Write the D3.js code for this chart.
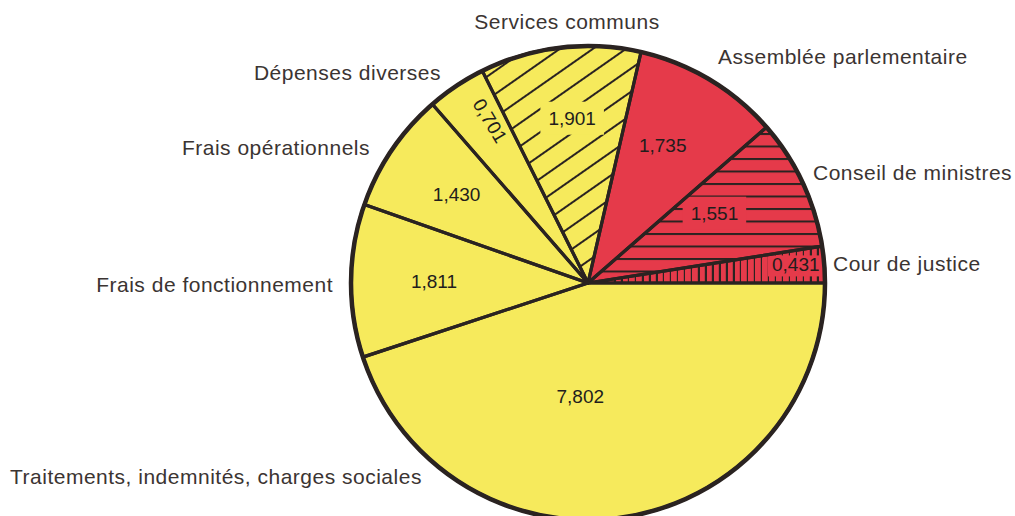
<!DOCTYPE html>
<html>
<head>
<meta charset="utf-8">
<script src="https://cdn.jsdelivr.net/npm/d3@7"></script>
<style>
  html, body { margin: 0; padding: 0; background: #ffffff; }
  svg { display: block; }
</style>
</head>
<body>
<svg id="chart" width="1015" height="516"></svg>
<script>
// Budget breakdown (slices run counter-clockwise from 3 o'clock)
const categories = [
  "Cour de justice",
  "Conseil de ministres",
  "Assemblée parlementaire",
  "Services communs",
  "Dépenses diverses",
  "Frais opérationnels",
  "Frais de fonctionnement",
  "Traitements, indemnités, charges sociales"
];
const values = [0.431, 1.551, 1.735, 1.901, 0.701, 1.430, 1.811, 7.802];
const valueLabels = ["0,431", "1,551", "1,735", "1,901", "0,701", "1,430", "1,811", "7,802"];

// Fill style per slice
const sliceStyle = ["redVertical", "redHorizontal", "red", "yellowDiagonal", "yellow", "yellow", "yellow", "yellow"];

// Value label placement: [fraction of radius, counter-clockwise nudge in degrees, rotate along radius]
const valuePlacement = [
  [0.88, 0.6, false],
  [0.61, 4.0, false],
  [0.66, 2.4, false],
  [0.70, -1.3, false],
  [0.80, -2.7, true],
  [0.67, 0, false],
  [0.65, 0, false],
  [0.48, -13, false]
];

// Category label placement: [x, baseline y, text-anchor]
const namePlacement = [
  [833, 271, "start"],
  [813, 180, "start"],
  [718, 64, "start"],
  [567, 29, "middle"],
  [441, 80, "end"],
  [370, 155, "end"],
  [333, 292, "end"],
  [10, 484, "start"]
];

const cx = 588, cy = 283, R = 237;

const YELLOW = "#f6ea5c";
const RED = "#e53a4a";
const INK = "#2a2321";
const TEXT = "#3b3432";
const FONT = "'Liberation Sans', Arial, Helvetica, sans-serif";

const svg = d3.select("#chart");
const defs = svg.append("defs");

function hatch(id, base, spacing, angle, width) {
  const p = defs.append("pattern")
    .attr("id", id)
    .attr("patternUnits", "userSpaceOnUse")
    .attr("width", spacing)
    .attr("height", spacing)
    .attr("patternTransform", `rotate(${angle})`);
  p.append("rect").attr("width", spacing).attr("height", spacing).attr("fill", base);
  p.append("rect").attr("x", 0).attr("y", 0).attr("width", spacing).attr("height", width).attr("fill", INK);
}
hatch("redHorizontal", RED, 12.5, 0, 2);
hatch("redVertical", RED, 7, 90, 2.2);
hatch("yellowDiagonal", YELLOW, 19, -35, 2);

const fillFor = {
  red: RED,
  yellow: YELLOW,
  redHorizontal: "url(#redHorizontal)",
  redVertical: "url(#redVertical)",
  yellowDiagonal: "url(#yellowDiagonal)"
};
const baseFor = {
  red: RED, yellow: YELLOW,
  redHorizontal: RED, redVertical: RED, yellowDiagonal: YELLOW
};
const isHatched = s => s === "redHorizontal" || s === "redVertical" || s === "yellowDiagonal";

const pie = d3.pie()
  .sort(null)
  .value(d => d)
  .startAngle(Math.PI / 2)
  .endAngle(Math.PI / 2 - 2 * Math.PI);

const arcs = pie(values);
const arc = d3.arc().innerRadius(0).outerRadius(R);

const g = svg.append("g").attr("transform", `translate(${cx},${cy})`);

// Slice fills
g.append("g")
  .selectAll("path")
  .data(arcs)
  .join("path")
  .attr("d", arc)
  .attr("fill", (d, i) => fillFor[sliceStyle[i]]);

const backLayer = g.append("g");

// Slice outlines drawn over the label backings
g.append("g")
  .selectAll("path")
  .data(arcs)
  .join("path")
  .attr("d", arc)
  .attr("fill", "none")
  .attr("stroke", INK)
  .attr("stroke-width", 3.2)
  .attr("stroke-linejoin", "round");

// Outer rim
g.append("circle")
  .attr("r", R)
  .attr("fill", "none")
  .attr("stroke", INK)
  .attr("stroke-width", 4.5);

// Value labels
const toRad = Math.PI / 180;
const textLayer = g.append("g");
arcs.forEach((d, i) => {
  const [frac, nudge, rotate] = valuePlacement[i];
  const a = (d.startAngle + d.endAngle) / 2 - nudge * toRad;
  const r = frac * R;
  const x = r * Math.sin(a);
  const y = -r * Math.cos(a);
  const rot = rotate ? 90 + a / toRad : 0;
  const tf = `translate(${x},${y}) rotate(${rot})`;
  const t = textLayer.append("text")
    .attr("transform", tf)
    .attr("text-anchor", "middle")
    .attr("dy", "0.36em")
    .attr("font-family", FONT)
    .attr("font-size", 19)
    .attr("fill", "#221d1c")
    .text(valueLabels[i]);
  if (isHatched(sliceStyle[i])) {
    const bb = t.node().getBBox();
    const tight = sliceStyle[i] === "redVertical";
    const padX = tight ? 4 : 8;
    const padY = tight ? 1 : 6;
    backLayer.append("rect")
      .attr("transform", tf)
      .attr("x", bb.x - padX)
      .attr("y", bb.y - padY + (tight ? 2 : 0))
      .attr("width", bb.width + 2 * padX)
      .attr("height", bb.height + 2 * padY - (tight ? 2 : 0))
      .attr("fill", baseFor[sliceStyle[i]]);
  }
});

// Category labels
svg.append("g")
  .selectAll("text")
  .data(categories)
  .join("text")
  .attr("x", (d, i) => namePlacement[i][0])
  .attr("y", (d, i) => namePlacement[i][1])
  .attr("text-anchor", (d, i) => namePlacement[i][2])
  .attr("font-family", FONT)
  .attr("font-size", 21)
  .attr("letter-spacing", 0.5)
  .attr("fill", TEXT)
  .text(d => d);
</script>
</body>
</html>
